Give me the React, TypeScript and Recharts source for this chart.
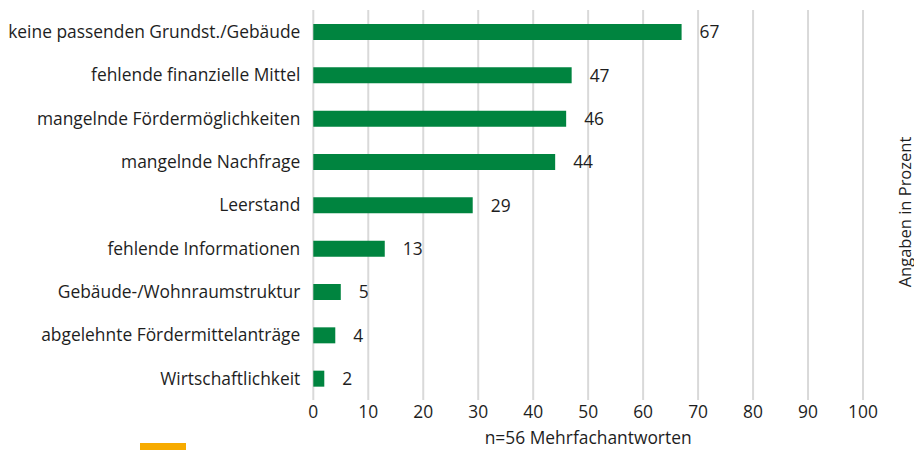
import React from 'react';
import { BarChart, Bar, XAxis, YAxis, CartesianGrid, LabelList } from 'recharts';

const categories = [
    'keine passenden Grundst./Gebäude',
    'fehlende finanzielle Mittel',
    'mangelnde Fördermöglichkeiten',
    'mangelnde Nachfrage',
    'Leerstand',
    'fehlende Informationen',
    'Gebäude-/Wohnraumstruktur',
    'abgelehnte Fördermittelanträge',
    'Wirtschaftlichkeit',
];
const values = [67, 47, 46, 44, 29, 13, 5, 4, 2];
const xTicks = [0, 10, 20, 30, 40, 50, 60, 70, 80, 90, 100];

const data = categories.map((name, i) => ({ name, value: values[i] }));

const FONT = '"Open Sans", "Noto Sans", sans-serif';
const TEXT = '#1e1e1e';

const App: React.FC = () => {
    return (
        <div style={{ position: 'absolute', left: 0, top: 0, width: 914, height: 450, fontFamily: FONT }}>
            <BarChart
                width={914}
                height={450}
                data={data}
                layout="vertical"
                margin={{ top: 10, right: 51, left: 0, bottom: 20 }}
            >
                <CartesianGrid horizontal={false} stroke="#d9d9d9" strokeWidth={2} />
                <XAxis
                    type="number"
                    domain={[0, 100]}
                    ticks={xTicks}
                    height={30}
                    axisLine={false}
                    tickLine={false}
                    tickSize={0}
                    tickMargin={6}
                    tick={{ fill: TEXT, fontSize: 17.4, fontFamily: FONT }}
                    label={{ value: 'n=56 Mehrfachantworten', position: 'bottom', offset: 2, fill: TEXT, fontSize: 17.4, fontFamily: FONT }}
                />
                <YAxis
                    type="category"
                    dataKey="name"
                    width={313.3}
                    axisLine={false}
                    tickLine={false}
                    tickSize={0}
                    tickMargin={13}
                    interval={0}
                    tick={{ fill: TEXT, fontSize: 17.4, fontFamily: FONT }}
                />
                <Bar dataKey="value" fill="#00843f" barSize={16} isAnimationActive={false}>
                    <LabelList dataKey="value" position="right" offset={18} fill={TEXT} fontSize={17.4} fontFamily={FONT} />
                </Bar>
            </BarChart>
            <div
                style={{
                    position: 'absolute',
                    left: 904,
                    top: 212,
                    transform: 'translate(-50%, -50%) rotate(-90deg)',
                    whiteSpace: 'nowrap',
                    fontSize: 16.5,
                    color: TEXT,
                }}
            >
                Angaben in Prozent
            </div>
            <div style={{ position: 'absolute', left: 140, top: 443, width: 46, height: 7, background: '#f7ab00' }} />
        </div>
    );
};

export default App;
